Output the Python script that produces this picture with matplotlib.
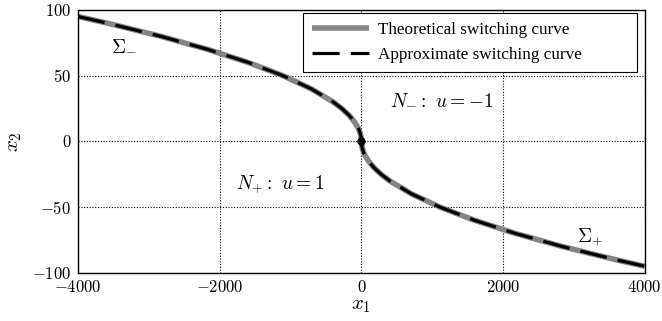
import matplotlib
matplotlib.use("Agg")
import matplotlib.pyplot as plt

plt.rcParams["font.family"] = "serif"
plt.rcParams["font.serif"] = ["Liberation Serif", "DejaVu Serif"]
plt.rcParams["mathtext.fontset"] = "cm"

# punkty
x2_gora = [0, 1, 2, 4, 6, 8, 10, 15, 20, 25, 30, 40, 50, 60, 70, 80, 90, 95]
x1_gora = [0, -0.4, -1.8, -7, -16, -28, -44, -100, -177, -277, -399, -709, -1108, -1596, -2172, -2837, -3590, -4000]
x2_dol = [-v for v in x2_gora]
x1_dol = [-v for v in x1_gora]

x_ticks = [-4000, -2000, 0, 2000, 4000]
y_ticks = [-100, -50, 0, 50, 100]

x1_teor = x1_gora[::-1] + x1_dol[1:]
x2_teor = x2_gora[::-1] + x2_dol[1:]

fig, ax = plt.subplots(figsize=(6.62, 3.21), dpi=100)
fig.subplots_adjust(left=0.118, right=0.974, top=0.969, bottom=0.15)

ax.plot(x1_teor, x2_teor, color="#858585", lw=4.0, solid_capstyle="butt",
        label="Theoretical switching curve")
ax.plot(x1_teor, x2_teor, color="black", lw=2.3, dashes=(8.5, 3.5),
        label="Approximate switching curve")
ax.plot([0], [0], "o", color="black", ms=5)

ax.text(-3350, 73, r"$\Sigma_{-}$", fontsize=14, ha="center", va="center")
ax.text(3230, -73, r"$\Sigma_{+}$", fontsize=14, ha="center", va="center")
ax.text(1130, 32, r"$N_{-}:\ u=-1$", fontsize=14, ha="center", va="center")
ax.text(-1150, -33, r"$N_{+}:\ u=1$", fontsize=14, ha="center", va="center")

ax.set_xlim(-4000, 4000)
ax.set_ylim(-100, 100)
ax.set_xticks(x_ticks)
ax.set_yticks(y_ticks)
ax.set_xticklabels([f"${v}$" for v in x_ticks], fontsize=12)
ax.set_yticklabels([f"${v}$" for v in y_ticks], fontsize=12)
ax.set_xlabel(r"$x_1$", fontsize=15, labelpad=0)
ax.set_ylabel(r"$x_2$", fontsize=15, labelpad=6)
ax.grid(True, color="black", linestyle=(0, (1, 1.5)), lw=0.8)
ax.tick_params(direction="in", length=0, pad=5)
for s in ax.spines.values():
    s.set_linewidth(1.0)

leg = ax.legend(loc="upper left", bbox_to_anchor=(0.397, 0.783, 0.59, 0.2056),
                mode="expand", fontsize=12.3, fancybox=False, framealpha=1,
                edgecolor="black", handlelength=3.3, handletextpad=0.55,
                borderpad=0.55, labelspacing=0.5, borderaxespad=0)
leg.get_frame().set_linewidth(0.8)

plt.savefig("out.png", dpi=100)
